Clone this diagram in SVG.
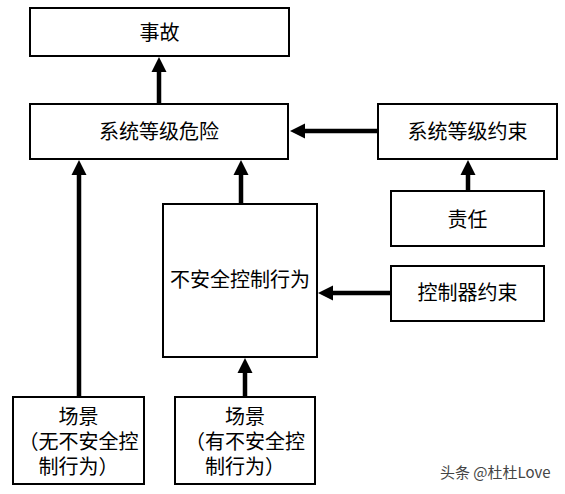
<svg xmlns="http://www.w3.org/2000/svg" width="565" height="494" viewBox="0 0 565 494">
<style>
.box{fill:#fff;stroke:#000;stroke-width:2}
.t{font-family:"Noto Sans CJK SC","Liberation Sans",sans-serif;font-size:20px;fill:#000;text-anchor:middle}
.c{fill:none;stroke:#000;stroke-width:4.5;stroke-linecap:round;marker-end:url(#ah)}
.wm{font-family:"Noto Sans CJK SC","Liberation Sans",sans-serif;font-size:15px;fill:#444}
</style>
<defs>
<marker id="ah" markerUnits="userSpaceOnUse" markerWidth="16" markerHeight="16" refX="0" refY="8" orient="auto" viewBox="0 0 16 16">
<path d="M0,0.5 L15,8 L0,15.5 z" fill="#000"/>
</marker>
</defs>
<rect width="565" height="494" fill="#fff"/>
<g id="connectors">
<line class="c" x1="159" y1="103" x2="159" y2="72"/>
<line class="c" x1="378" y1="131" x2="305" y2="131"/>
<line class="c" x1="241" y1="204" x2="241" y2="175"/>
<line class="c" x1="468" y1="191" x2="468" y2="175"/>
<line class="c" x1="391" y1="293" x2="333" y2="293"/>
<line class="c" x1="79" y1="397" x2="79" y2="175"/>
<line class="c" x1="245" y1="397" x2="245" y2="373"/>
</g>
<g id="accident">
<rect class="box" x="30" y="8" width="259" height="48"/>
<text class="t" x="159.5" y="40">事故</text>
</g>
<g id="system-hazard">
<rect class="box" x="30" y="104" width="258" height="55"/>
<text class="t" x="159" y="139">系统等级危险</text>
</g>
<g id="system-constraint">
<rect class="box" x="378" y="104" width="179" height="55"/>
<text class="t" x="467.5" y="139">系统等级约束</text>
</g>
<g id="responsibility">
<rect class="box" x="391" y="191" width="153" height="55"/>
<text class="t" x="467.5" y="227">责任</text>
</g>
<g id="controller-constraint">
<rect class="box" x="391" y="266" width="153" height="55"/>
<text class="t" x="467.5" y="300">控制器约束</text>
</g>
<g id="unsafe-control-action">
<rect class="box" x="163" y="204" width="154" height="153"/>
<text class="t" x="240" y="287">不安全控制行为</text>
</g>
<g id="scenario-no-uca">
<rect class="box" x="13" y="397" width="131" height="87"/>
<text class="t" x="78.5" y="424">场景<tspan x="78.5" dy="25">（无不安全控</tspan><tspan x="78.5" dy="25">制行为）</tspan></text>
</g>
<g id="scenario-uca">
<rect class="box" x="175" y="397" width="140" height="87"/>
<text class="t" x="245" y="424">场景<tspan x="245" dy="25">（有不安全控</tspan><tspan x="245" dy="25">制行为）</tspan></text>
</g>
<text class="wm" x="440" y="478">头条 @杜杜Love</text>
</svg>
